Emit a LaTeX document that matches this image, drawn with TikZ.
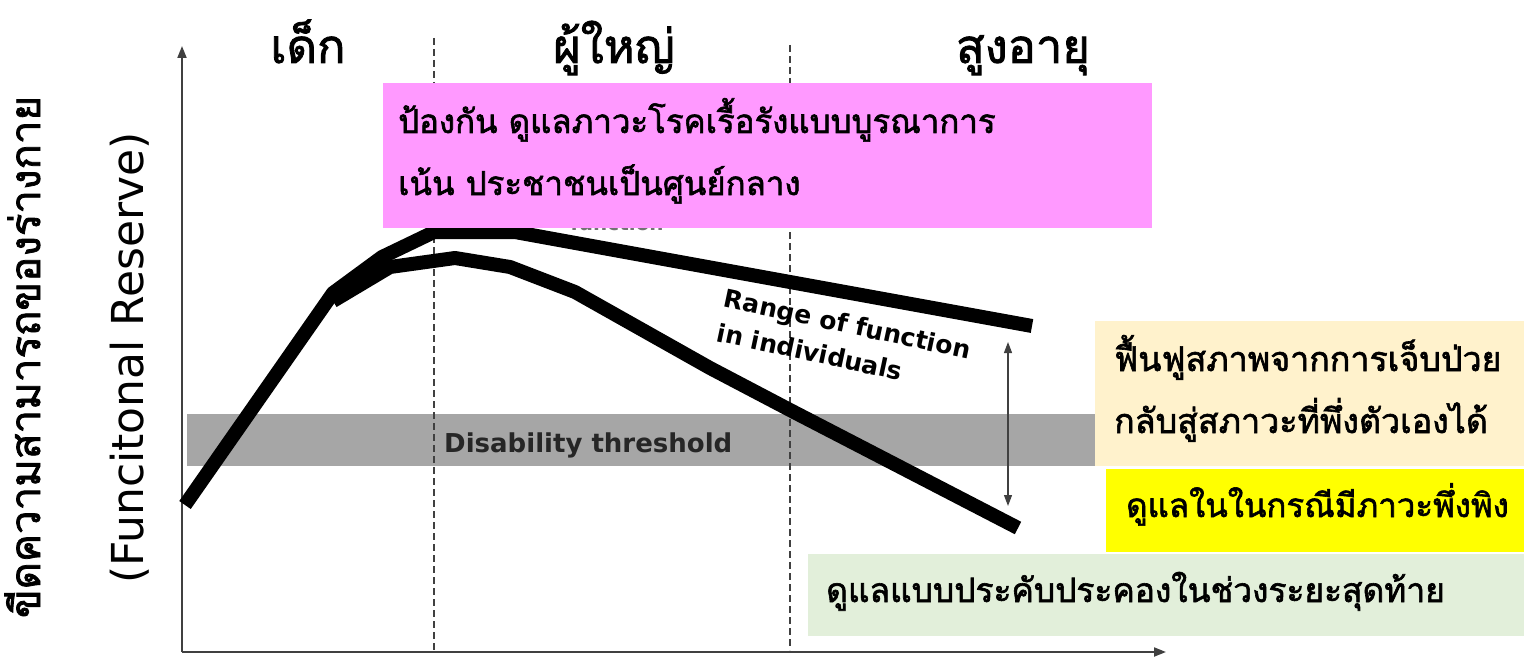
\documentclass[tikz,border=0pt]{standalone}
\usepackage{fontspec}
\newfontfamily\thai[Script=Thai,FakeBold=1.8]{Loma}
\newfontfamily\dejavu{DejaVu Sans}
\usetikzlibrary{arrows.meta}
\definecolor{pinkbox}{HTML}{FF99FF}
\definecolor{beigebox}{HTML}{FFF2CC}
\definecolor{yellowbox}{HTML}{FFFF00}
\definecolor{greenbox}{HTML}{E2EFDA}
\definecolor{bandgray}{HTML}{A6A6A6}
\definecolor{axisgray}{HTML}{404040}
\tikzset{
  axisline/.style={draw=axisgray, line width=2pt, -{Triangle[length=12pt,width=9pt]}},
  divline/.style={draw=axisgray, line width=1.5pt, dash pattern=on 7pt off 4pt},
  fnline/.style={draw=black, line width=14pt, line join=round},
  headlbl/.style={font=\thai\fontsize{47}{50}\selectfont, inner sep=0pt, anchor=base},
  boxtxt/.style={font=\thai\fontsize{33}{40}\selectfont, inner sep=0pt, anchor=base west},
}
\begin{document}
\begin{tikzpicture}[x=1pt,y=-1pt]
\useasboundingbox (0,0) rectangle (1526,658);
% disability band
\fill[bandgray] (187,414) rectangle (1100,466);
\node[font=\dejavu\bfseries\fontsize{26}{30}\selectfont, inner sep=0pt, anchor=base west, text=black!85] (dis) at (444,452) {Disability threshold};
% axes
\coordinate (o) at (182,652);
\coordinate (ytop) at (182,46);
\coordinate (xend) at (1166,652);
\draw[axisline] (o) -- (ytop);
\draw[axisline] (o) -- (xend);
% dividers
\coordinate (d1a) at (434,38); \coordinate (d1b) at (434,650);
\coordinate (d2a) at (790,45); \coordinate (d2b) at (790,650);
\draw[divline] (d1a) -- (d1b);
\draw[divline] (d2a) -- (d2b);
% curves
\coordinate (u0) at (185,505);
\coordinate (u1) at (333,293);
\coordinate (u2) at (382,257);
\coordinate (u3) at (434,232);
\coordinate (u4) at (515,232);
\coordinate (u5) at (1032,326);
\draw[fnline] (u0) -- (u1) -- (u2) -- (u3) -- (u4) -- (u5);
\coordinate (l0) at (333,301);
\coordinate (l1) at (390,267);
\coordinate (l2) at (455,258);
\coordinate (l3) at (510,267);
\coordinate (l4) at (575,292);
\coordinate (l5) at (710,368);
\coordinate (l6) at (790,410);
\coordinate (l7) at (1018,528);
\draw[fnline] (l0) -- (l1) -- (l2) -- (l3) -- (l4) -- (l5) -- (l6) -- (l7);
% hidden label
\node[font=\dejavu\bfseries\fontsize{20}{24}\selectfont, text=black!55, inner sep=0pt, anchor=base] (fn) at (617,230) {function};
% range label
\node[font=\dejavu\bfseries\fontsize{25}{35}\selectfont, align=left, rotate=-12, inner sep=0pt] (rng) at (844,341) {Range of function\\in individuals};
% range arrow
\coordinate (ra) at (1008,342);
\coordinate (rb) at (1008,506);
\draw[draw=axisgray, line width=1.2pt, {Triangle[length=11pt,width=8pt]}-{Triangle[length=11pt,width=8pt]}] (ra) -- (rb);
% boxes
\fill[pinkbox] (383,83) rectangle (1152,228);
\node[boxtxt] (p1) at (398,133) {ป้องกัน ดูแลภาวะโรคเรื้อรังแบบบูรณาการ};
\node[boxtxt] (p2) at (398,195) {เน้น ประชาชนเป็นศูนย์กลาง};
\fill[beigebox] (1095,321) rectangle (1524,466);
\node[boxtxt, font=\thai\fontsize{34}{40}\selectfont] (b1) at (1114,371) {ฟื้นฟูสภาพจากการเจ็บป่วย};
\node[boxtxt, font=\thai\fontsize{34}{40}\selectfont] (b2) at (1114,433) {กลับสู่สภาวะที่พึ่งตัวเองได้};
\fill[yellowbox] (1106,469) rectangle (1524,552);
\node[boxtxt] (y1) at (1126,517) {ดูแลในในกรณีมีภาวะพึ่งพิง};
\fill[greenbox] (808,554) rectangle (1524,636);
\node[boxtxt, font=\thai\fontsize{33.5}{40}\selectfont] (g1) at (826,602) {ดูแลแบบประคับประคองในช่วงระยะสุดท้าย};
% headings
\node[headlbl] (h1) at (308,63) {เด็ก};
\node[headlbl] (h2) at (614,63) {ผู้ใหญ่};
\node[headlbl] (h3) at (1023,63) {สูงอายุ};
% y labels
\node[font=\thai\fontsize{42}{46}\selectfont, rotate=90, inner sep=0pt, anchor=base] (yl1) at (40,357) {ขีดความสามารถของร่างกาย};
\node[font=\dejavu\fontsize{44}{48}\selectfont, rotate=90, inner sep=0pt, anchor=base] (yl2) at (143,358) {(Funcitonal Reserve)};
\end{tikzpicture}
\end{document}
